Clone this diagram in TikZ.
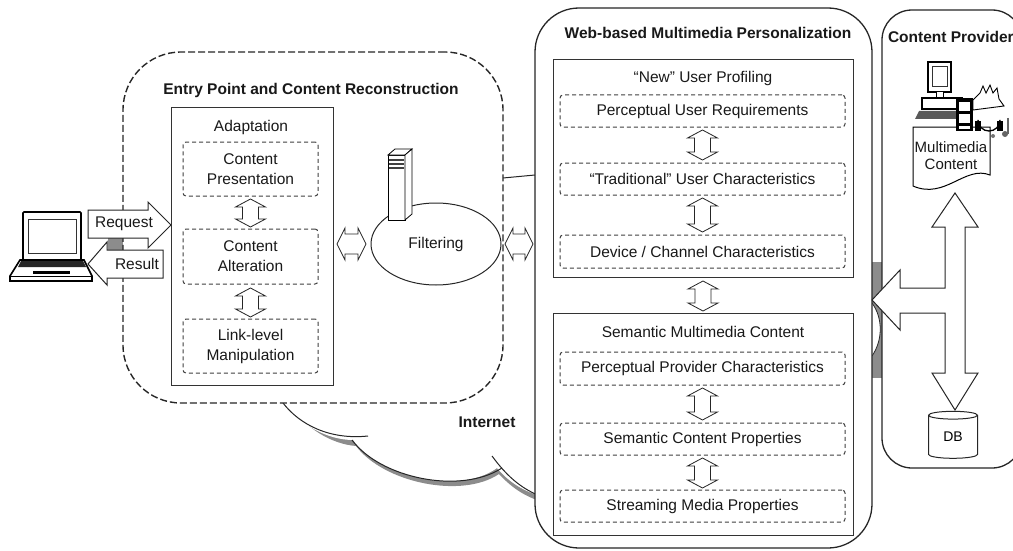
\documentclass[tikz,border=0pt]{standalone}
\usepackage{fontspec}
\setmainfont{Liberation Sans}
\usetikzlibrary{calc,shapes.geometric}

% vertical double block arrow between two points (top, bottom)
\newcommand\vdarrow[2]{%
  \draw[blockarrow] let \p1=(#1), \p2=(#2) in
    (\x1,\y1) -- (\x1+15pt,\y1-8pt) -- (\x1+8pt,\y1-8pt) -- (\x1+8pt,\y2+8pt)
    -- (\x1+15pt,\y2+8pt) -- (\x1,\y2) -- (\x1-15pt,\y2+8pt) -- (\x1-8pt,\y2+8pt)
    -- (\x1-8pt,\y1-8pt) -- (\x1-15pt,\y1-8pt) -- cycle;}
% horizontal double block arrow between two points (left, right)
\newcommand\hdarrow[2]{%
  \draw[blockarrow] let \p1=(#1), \p2=(#2) in
    (\x1,\y1) -- (\x1+8pt,\y1+16pt) -- (\x1+8pt,\y1+10pt) -- (\x2-8pt,\y1+10pt)
    -- (\x2-8pt,\y1+16pt) -- (\x2,\y1) -- (\x2-8pt,\y1-16pt) -- (\x2-8pt,\y1-10pt)
    -- (\x1+8pt,\y1-10pt) -- (\x1+8pt,\y1-16pt) -- cycle;}

\begin{document}
\begin{tikzpicture}[x=1pt,y=-1pt,
  every node/.style={inner sep=0pt, outer sep=0pt},
  txt/.style={font=\fontsize{15.5}{20}\selectfont, align=center, text=black!90},
  ttl/.style={font=\fontsize{15.5}{20}\selectfont\bfseries, text=black!90},
  frame/.style={draw=black!85, line width=1.3pt, fill=white},
  inner/.style={draw=black!80, line width=1pt, fill=white},
  sub/.style={draw=black!75, line width=1pt, dash pattern=on 4pt off 3pt, rounded corners=3pt},
  blockarrow/.style={draw=black!85, line width=0.8pt, fill=white, line join=miter},
  shadow/.style={fill=black!45},
  icon/.style={draw=black, line width=1pt, fill=white},
]
\useasboundingbox (0,0) rectangle (1013,551);
\clip (0,0) rectangle (1013,551);

% ---------- Internet cloud (visible parts) ----------
\fill[shadow] (290,406) .. controls (306,428) and (331,444) .. (356,446)
  .. controls (384,483) and (462,499) .. (499,474)
  .. controls (511,487) and (524,496) .. (540,501) -- (540,405) -- cycle;
\fill[white] (283,403) .. controls (300,425) and (328,440) .. (353,440)
  .. controls (380,478) and (460,495) .. (497,468)
  .. controls (508,481) and (521,490) .. (540,496) -- (540,403) -- cycle;
\draw[black!85, line width=1pt] (283,403) .. controls (300,425) and (330,440) .. (368,436);
\draw[black!85, line width=1pt] (352,440) .. controls (380,478) and (460,495) .. (502,468);
\draw[black!85, line width=1pt] (492,456) .. controls (506,475) and (520,488) .. (540,496);
\draw[black!85, line width=1pt] (503,178) -- (535,175);
\fill[shadow] (872,262) rectangle (882,378);
\filldraw[fill=white, draw=black!85, line width=0.8pt] (872,303) .. controls (883,318) and (883,340) .. (872,356);
\fill[shadow] (108,238) rectangle (125,250);

% ---------- main frames ----------
\node[frame, dash pattern=on 7pt off 3pt, line width=1.4pt, rounded corners=58pt,
      minimum width=380pt, minimum height=351pt, anchor=north west] (entry) at (123,52) {};
\node[frame, rounded corners=44pt, minimum width=337pt, minimum height=540pt,
      anchor=north west] (web) at (535,8) {};
\node[frame, rounded corners=30pt, minimum width=140pt, minimum height=458pt,
      anchor=north west] (prov) at (882,10) {};

\node[ttl] (entryT) at (311,90) {Entry Point and Content Reconstruction};
\node[ttl] (webT) at (708,33) {Web-based Multimedia Personalization};
\node[ttl, anchor=west] (provT) at (888,37) {Content Provider};
\node[ttl] (inet) at (487,422) {Internet};

% ---------- adaptation ----------
\node[inner, minimum width=162pt, minimum height=277pt, anchor=north west] (adapt) at (171,108) {};
\node[txt] (adaptT) at (251,127) {Adaptation};
\node[sub, txt, minimum width=135pt, minimum height=54pt, anchor=north west] (pres) at (183,142) {Content\\Presentation};
\node[sub, txt, minimum width=135pt, minimum height=55pt, anchor=north west] (alter) at (183,229) {Content\\Alteration};
\node[sub, txt, minimum width=135pt, minimum height=54pt, anchor=north west] (link) at (183,319) {Link-level\\Manipulation};
\vdarrow{$(pres.south)+(0,3)$}{$(alter.north)+(0,-2)$}
\vdarrow{$(alter.south)+(0,4)$}{$(link.north)+(0,-2)$}

% ---------- filtering ----------
\node[draw=black!85, line width=1pt, ellipse, fill=white, minimum width=130pt,
      minimum height=82pt, txt] (filt) at (436,244) {Filtering};
\filldraw[icon, line width=0.8pt] (388,155) rectangle (405,220);
\filldraw[icon, line width=0.8pt] (388,155) -- (395,149) -- (412,149) -- (405,155) -- cycle;
\filldraw[icon, line width=0.8pt] (405,155) -- (412,149) -- (412,214) -- (405,220) -- cycle;
\fill[black!75] (389,159) rectangle (404,161);
\fill[black!75] (389,163) rectangle (404,165);
\fill[black!75] (389,167) rectangle (404,169);

\hdarrow{$(adapt.east|-filt.west)+(4,0)$}{$(filt.west)+(-5,0)$}
\hdarrow{$(filt.east)+(4,0)$}{$(web.west|-filt.east)+(-2,0)$}

% ---------- user profiling ----------
\node[inner, minimum width=300pt, minimum height=217pt, anchor=north west] (prof) at (553,60) {};
\node[txt] (profT) at (703,78) {“New” User Profiling};
\node[sub, txt, minimum width=285pt, minimum height=32pt, anchor=north west] (req) at (560,95) {Perceptual User Requirements};
\node[sub, txt, minimum width=285pt, minimum height=32pt, anchor=north west] (trad) at (560,163) {“Traditional” User Characteristics};
\node[sub, txt, minimum width=285pt, minimum height=33pt, anchor=north west] (dev) at (560,235) {Device / Channel Characteristics};
\vdarrow{$(req.south)+(0,3)$}{$(trad.north)+(0,-3)$}
\vdarrow{$(trad.south)+(0,3)$}{$(dev.north)+(0,-3)$}

% ---------- semantic content ----------
\node[inner, minimum width=300pt, minimum height=222pt, anchor=north west] (sem) at (553,313) {};
\node[txt] (semT) at (703,332) {Semantic Multimedia Content};
\node[sub, txt, minimum width=285pt, minimum height=33pt, anchor=north west] (ppc) at (560,352) {Perceptual Provider Characteristics};
\node[sub, txt, minimum width=285pt, minimum height=32pt, anchor=north west] (scp) at (560,423) {Semantic Content Properties};
\node[sub, txt, minimum width=285pt, minimum height=32pt, anchor=north west] (smp) at (560,490) {Streaming Media Properties};
\vdarrow{$(ppc.south)+(0,3)$}{$(scp.north)+(0,-3)$}
\vdarrow{$(scp.south)+(0,3)$}{$(smp.north)+(0,-2)$}
\vdarrow{$(prof.south)+(0,4)$}{$(sem.north)+(0,-2)$}

% ---------- laptop with request / result ----------
\filldraw[fill=white, draw=black, line width=1.6pt, rounded corners=1pt] (23,212) rectangle (81,260);
\draw[black!80, line width=1pt] (28,219) rectangle (76,253);
\filldraw[fill=white, draw=black, line width=1.6pt] (20,260) -- (84,260) -- (92,276) -- (92,281) -- (10,281) -- (10,276) -- cycle;
\fill[black!85] (21,261) -- (83,261) -- (86,267) -- (18,267) -- cycle;
\fill[black] (33,271) rectangle (70,274);
\draw[black, line width=1pt] (10,276) -- (92,276);

\draw[blockarrow, line width=1pt] (88,210) -- (148,210) -- (148,202) -- (adapt.west|-0,225)
  -- (148,248) -- (148,238) -- (88,238) -- cycle;
\node[txt] (reqT) at (124,224) {Request};
\draw[blockarrow, line width=1pt] (163,250) -- (107,250) -- (107,242) -- (88,264)
  -- (107,285) -- (107,278) -- (163,278) -- cycle;
\node[txt] (resT) at (137,264) {Result};

% ---------- content provider ----------
\filldraw[icon] (913,127) -- (990,127) -- (990,175) .. controls (965,165) and (945,200) .. (913,186) -- cycle;
\node[txt, font=\fontsize{15}{17}\selectfont] (doc) at (951,156) {Multimedia\\Content};
% computer
\filldraw[icon, line width=1.2pt] (928,62) rectangle (951,92);
\draw[black!80, line width=0.9pt] (932,66) rectangle (947,86);
\filldraw[icon] (936,92) rectangle (943,98);
\filldraw[icon, line width=1.1pt] (922,98) rectangle (962,109);
\fill[black!65] (919,111) -- (960,111) -- (958,119) -- (915,119) -- cycle;
% media clip art: film strip, clapper, headphones, note
\fill[black] (956,98) rectangle (973,131);
\fill[white] (959,102) rectangle (970,111);
\fill[white] (959,114) rectangle (970,123);
\fill[white] (959,126) rectangle (970,129);
\filldraw[icon, line width=0.9pt] (973,100) -- (980,93) -- (983,86) -- (986,93) -- (990,85) -- (993,93) -- (997,88) -- (999,99) -- (1004,106) -- (973,110) -- cycle;
\filldraw[icon, line width=1.3pt] (978,130) -- (978,120) arc (180:0:11) -- (1000,130);
\fill[black] (975,121) rectangle (981,131);
\fill[black] (997,121) rectangle (1003,131);
\draw[black!60, line width=1.2pt] (1008,118) -- (1008,134);
\fill[black!60] (1005,134) circle (3);
\fill[black!55] (993,136) circle (2);

% double arrow to DB with branch to the personalization frame
\node[cylinder, shape border rotate=90, draw=black!85, line width=1pt, fill=white,
      minimum width=49pt, minimum height=47pt, aspect=0.4,
      font=\fontsize{14}{16}\selectfont] (db) at (953,437) {DB};
\draw[blockarrow, line width=1pt] (955,193) -- (978,227) -- (965,227) -- (965,373)
  -- (978,373) -- (955,410) -- (932,373) -- (945,373) -- (945,313) -- (900,313)
  -- (900,330) -- (web.east|-0,300) -- (900,270) -- (900,288) -- (945,288)
  -- (945,227) -- (932,227) -- cycle;
\end{tikzpicture}
\end{document}
